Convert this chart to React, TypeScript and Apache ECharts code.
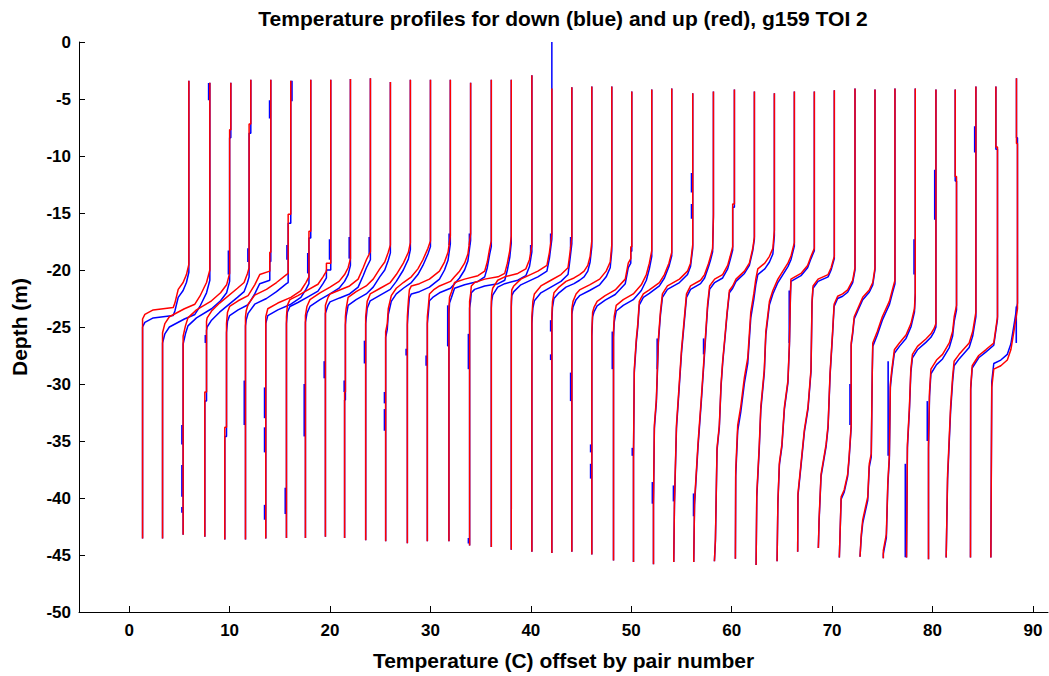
import React, { useEffect, useRef } from "react";
import * as echarts from "echarts";

// ---- data ----
const xTickValues = [0, 10, 20, 30, 40, 50, 60, 70, 80, 90];

// temperature (offset) at the top of each "up" (red) profile
const upTopTemp = [
  5.94, 8.03, 10.12, 12.11, 14.1, 16.09, 18.08, 20.07, 22.03, 24.02,
  26.01, 28.0, 30.0, 31.98, 34.0, 36.06, 38.05, 40.1, 42.09, 44.08,
  46.07, 48.06, 50.05, 52.04, 54.03, 56.12, 58.18, 60.27, 62.26, 64.25,
  66.24, 68.23, 70.22, 72.28, 74.27, 76.26, 78.28, 80.34, 82.26, 84.32,
  86.31, 88.36,
];
// depth of the top of each up profile
const upTopDepth = [
  -3.41, -3.58, -3.58, -3.31, -3.31, -3.41, -3.31, -3.31, -3.25, -3.18,
  -3.51, -3.31, -3.31, -3.31, -3.58, -3.31, -3.31, -2.92, -4.07, -3.98,
  -3.91, -3.91, -4.34, -4.17, -4.07, -4.5, -4.34, -4.17, -4.34, -4.5,
  -4.34, -4.34, -4.24, -4.07, -4.17, -4.07, -4.07, -4.17, -4.17, -3.91,
  -3.91, -3.18,
];
// depth of the top of each down (blue) profile
const downTopDepth = [
  -3.41, -3.58, -3.58, -3.31, -3.31, -3.41, -3.31, -3.31, -3.25, -3.18,
  -3.51, -3.31, -3.31, -3.31, -3.58, -3.31, -3.31, -2.92, 0.0, -3.98,
  -3.91, -3.91, -4.34, -4.17, -4.07, -4.5, -4.34, -4.17, -4.34, -4.5,
  -4.34, -4.34, -4.24, -4.07, -4.17, -4.07, -4.07, -4.17, -4.17, -3.91,
  -3.91, -3.18,
];
// bottom temperature and depth of each profile
const bottomTemp = [
  1.33, 3.32, 5.37, 7.53, 9.52, 11.58, 13.6, 15.66, 17.55, 19.54,
  21.45, 23.55, 25.54, 27.7, 29.69, 31.84, 33.9, 36.06, 38.05, 40.1,
  42.09, 44.08, 46.07, 48.23, 50.22, 52.21, 54.23, 56.22, 58.28, 60.37,
  62.43, 64.52, 66.57, 68.63, 70.72, 72.78, 75.1, 77.41, 79.6, 81.36,
  83.78, 85.81,
];
const bottomDepth = [
  -43.56, -43.56, -43.23, -43.4, -43.63, -43.63, -43.56, -43.5, -43.5, -43.4,
  -43.5, -43.7, -43.8, -43.96, -43.8, -43.8, -44.16, -44.29, -44.55, -44.72,
  -44.82, -44.72, -44.95, -45.48, -45.61, -45.81, -45.61, -45.61, -45.55, -45.32,
  -45.88, -45.55, -44.72, -44.39, -45.22, -45.15, -45.28, -45.22, -45.38, -45.22,
  -45.22, -45.22,
];
// thermocline points [temperature, depth] of each up profile (between top and bottom)
const upThermocline: number[][][] = [
  [[5.94,-19.5],[5.7,-20.4],[5.37,-21.1],[4.88,-21.7],[4.55,-22.9],[4.38,-23.3],[2.39,-23.5],[1.56,-23.9],[1.33,-24.3]],
  [[8.03,-20.0],[7.7,-21.1],[7.04,-22.3],[6.54,-23.0],[5.5,-23.4],[4.0,-24.1],[3.55,-24.7],[3.32,-25.5]],
  [[10.12,-7.7],[10.0,-7.7],[10.0,-20.3],[9.7,-21.3],[9.1,-22.0],[8.2,-22.7],[6.7,-23.5],[5.85,-24.2],[5.6,-24.9],[5.37,-25.8]],
  [[12.11,-7.2],[11.94,-7.2],[11.94,-19.8],[11.78,-20.3],[11.44,-21.1],[10.78,-21.6],[9.0,-22.9],[8.2,-23.6],[7.76,-24.2],[7.7,-24.5],[7.7,-30.7],[7.53,-30.7]],
  [[14.1,-18.45],[14.0,-18.45],[14.0,-20.1],[13.0,-20.4],[12.5,-21.3],[11.84,-22.25],[10.85,-22.7],[10.0,-23.2],[9.79,-23.7],[9.69,-24.7],[9.69,-33.8],[9.52,-33.8]],
  [[16.09,-15.1],[15.83,-15.1],[15.83,-20.3],[15.66,-20.4],[14.67,-21.1],[13.67,-21.7],[12.5,-22.2],[11.84,-23.0],[11.65,-23.6],[11.58,-24.1]],
  [[18.08,-16.6],[17.9,-16.6],[17.9,-20.6],[17.6,-21.1],[17.1,-21.8],[16.1,-22.4],[14.8,-22.9],[13.8,-23.4],[13.6,-24.1]],
  [[20.07,-19.4],[19.64,-19.4],[19.64,-20.1],[19.3,-20.6],[18.8,-21.25],[17.8,-21.75],[16.8,-22.25],[16.0,-22.6],[15.75,-23.1],[15.66,-24.1]],
  [[22.03,-19.0],[21.8,-19.8],[21.45,-20.4],[20.9,-21.0],[20.0,-21.5],[19.0,-22.0],[18.0,-22.6],[17.7,-23.2],[17.55,-24.0]],
  [[24.02,-18.4],[23.62,-19.1],[23.3,-19.8],[22.8,-20.8],[21.95,-21.4],[20.96,-21.75],[20.0,-22.1],[19.8,-22.4],[19.54,-23.1]],
  [[26.01,-17.8],[25.8,-18.45],[25.45,-19.3],[24.95,-19.9],[24.3,-20.8],[23.6,-21.4],[22.6,-21.9],[21.8,-22.4],[21.6,-23.4],[21.53,-24.1],[21.53,-30.7],[21.45,-30.7]],
  [[28.0,-17.6],[27.8,-18.45],[27.3,-19.4],[26.6,-20.4],[26.0,-21.1],[25.0,-21.6],[24.0,-22.1],[23.7,-22.75],[23.55,-24.1]],
  [[30.0,-17.45],[29.75,-18.1],[29.25,-19.1],[28.75,-19.9],[28.1,-20.6],[27.3,-21.1],[26.6,-21.6],[26.1,-22.25],[25.8,-23.4],[25.7,-24.7],[25.54,-25.4]],
  [[31.98,-17.0],[31.75,-18.45],[31.4,-19.3],[30.9,-20.1],[29.9,-20.8],[28.9,-21.2],[28.1,-21.4],[27.9,-21.75],[27.8,-22.75],[27.7,-24.1]],
  [[34.0,-16.8],[33.73,-18.6],[33.4,-19.4],[32.9,-20.1],[32.4,-20.6],[32.0,-21.0],[30.9,-21.4],[30.3,-21.75],[29.9,-22.1],[29.8,-23.1],[29.69,-24.1]],
  [[36.06,-17.45],[35.9,-18.1],[35.66,-19.3],[35.4,-20.1],[34.73,-20.5],[33.4,-20.8],[32.4,-21.1],[32.1,-21.9],[31.9,-22.4],[31.84,-23.4]],
  [[38.05,-17.0],[37.9,-18.3],[37.66,-19.4],[37.4,-20.3],[36.73,-20.6],[35.4,-20.8],[34.4,-21.1],[34.07,-21.4],[34.0,-22.1],[33.9,-22.75]],
  [[40.1,-17.8],[39.86,-19.1],[39.5,-19.9],[38.7,-20.3],[37.4,-20.6],[36.7,-20.9],[36.2,-21.6],[36.1,-22.1],[36.06,-22.75]],
  [[42.09,-16.8],[41.85,-18.45],[41.6,-19.6],[40.7,-20.1],[39.0,-20.8],[38.3,-21.4],[38.1,-21.75],[38.05,-22.75]],
  [[44.08,-17.1],[43.85,-18.8],[43.7,-19.8],[43.0,-20.4],[42.0,-20.9],[41.0,-21.4],[40.35,-22.1],[40.2,-22.75],[40.1,-24.1]],
  [[46.07,-17.45],[45.9,-18.8],[45.67,-19.6],[45.3,-20.1],[44.85,-20.4],[44.3,-20.7],[43.5,-21.0],[42.8,-21.5],[42.3,-22.0],[42.15,-22.8],[42.09,-24.0]],
  [[48.06,-17.8],[47.9,-19.3],[47.5,-20.1],[46.85,-20.8],[45.85,-21.3],[44.85,-21.75],[44.5,-22.1],[44.2,-22.75],[44.08,-23.4]],
  [[50.05,-17.95],[49.95,-17.95],[49.95,-19.0],[49.7,-19.4],[49.4,-20.8],[48.4,-21.75],[47.4,-22.25],[46.6,-22.75],[46.3,-23.25],[46.15,-23.7],[46.07,-25.4]],
  [[52.04,-18.3],[51.8,-19.4],[51.5,-20.4],[51.0,-21.3],[50.2,-22.1],[49.2,-22.6],[48.5,-23.1],[48.3,-24.1],[48.23,-25.4]],
  [[54.03,-18.45],[53.75,-19.4],[53.3,-20.4],[52.8,-21.1],[51.8,-21.75],[51.2,-22.1],[50.8,-22.75],[50.65,-24.7],[50.5,-26.05],[50.3,-28.7],[50.22,-36.3]],
  [[56.12,-17.8],[55.9,-19.4],[55.6,-20.1],[54.8,-20.8],[53.6,-21.4],[53.1,-22.1],[52.9,-23.7],[52.7,-26.05],[52.6,-28.7],[52.5,-31.3],[52.3,-33.6],[52.21,-40.3]],
  [[58.18,-15.1],[58.1,-18.1],[57.9,-18.8],[57.7,-19.4],[57.3,-20.4],[56.9,-20.9],[55.9,-21.4],[55.5,-22.1],[55.0,-27.0],[54.7,-31.0],[54.5,-33.6],[54.3,-40.3]],
  [[60.27,-14.2],[60.1,-14.2],[60.1,-17.95],[59.85,-18.8],[59.6,-19.6],[59.1,-20.4],[58.3,-20.8],[57.8,-21.4],[57.6,-23.0],[57.3,-27.0],[56.97,-31.3],[56.64,-35.3],[56.3,-40.3]],
  [[62.26,-17.1],[62.1,-18.1],[61.76,-19.4],[61.27,-20.1],[60.43,-20.8],[60.1,-21.4],[59.77,-21.8],[59.54,-23.7],[59.34,-25.7],[59.1,-28.0],[58.94,-30.0],[58.77,-33.6],[58.54,-35.6],[58.38,-43.6]],
  [[64.25,-16.5],[64.1,-18.1],[63.76,-18.8],[63.3,-19.4],[62.6,-19.9],[62.4,-20.8],[62.2,-22.1],[61.9,-23.7],[61.6,-27.7],[61.27,-29.4],[60.9,-32.0],[60.6,-33.6],[60.4,-37.6]],
  [[66.24,-17.6],[65.9,-18.8],[65.6,-19.4],[65.1,-20.1],[64.6,-20.8],[64.1,-21.8],[63.76,-22.75],[63.4,-25.4],[63.25,-28.7],[62.9,-32.0],[62.75,-35.3],[62.5,-39.6]],
  [[68.23,-18.1],[67.9,-18.8],[67.56,-19.6],[66.9,-20.3],[65.9,-20.8],[65.85,-22.1],[65.75,-26.4],[65.6,-29.7],[65.25,-32.0],[65.0,-35.3],[64.75,-36.9],[64.6,-40.3]],
  [[70.22,-18.8],[69.9,-19.8],[69.6,-20.4],[68.6,-20.8],[68.1,-21.4],[68.0,-22.75],[67.9,-28.7],[67.6,-32.0],[67.24,-34.0],[66.9,-37.0],[66.6,-39.6]],
  [[72.28,-19.8],[72.05,-20.9],[71.55,-21.75],[71.05,-22.1],[70.55,-22.3],[70.2,-23.0],[70.05,-25.4],[69.8,-29.0],[69.6,-33.6],[69.4,-35.3],[68.9,-37.9],[68.7,-41.9]],
  [[74.27,-19.8],[74.05,-21.1],[73.7,-21.75],[73.05,-22.4],[72.55,-23.4],[72.2,-24.1],[72.05,-25.4],[71.9,-26.4],[71.9,-33.6],[71.7,-36.3],[71.55,-37.9],[71.2,-39.3],[70.9,-39.9]],
  [[76.26,-20.9],[76.0,-21.75],[75.7,-22.75],[75.0,-24.1],[74.5,-25.4],[74.05,-26.4],[74.0,-28.7],[73.9,-36.1],[73.7,-37.0],[73.55,-39.9],[73.05,-41.9],[72.9,-43.2]],
  [[78.28,-22.0],[78.2,-23.4],[77.85,-24.7],[77.36,-25.7],[76.7,-26.4],[76.2,-27.0],[75.95,-28.7],[75.8,-30.0],[75.7,-36.3],[75.55,-38.6],[75.4,-43.2],[75.1,-44.6]],
  [[80.34,-24.7],[80.17,-25.1],[79.84,-25.6],[79.34,-26.05],[78.5,-26.7],[78.0,-27.4],[77.84,-28.7],[77.7,-32.0],[77.5,-35.3]],
  [[82.26,-11.8],[82.39,-11.8],[82.39,-23.1],[82.16,-24.1],[82.0,-25.4],[81.67,-26.4],[81.0,-27.4],[80.4,-27.9],[79.84,-28.7],[79.7,-30.7],[79.6,-35.3]],
  [[84.32,-23.7],[84.0,-25.4],[83.65,-26.4],[82.65,-27.4],[82.15,-28.0],[82.0,-29.4],[81.8,-32.0],[81.6,-36.0],[81.5,-37.95]],
  [[86.31,-9.2],[86.47,-9.2],[86.47,-24.1],[86.1,-26.4],[85.3,-27.0],[84.6,-27.5],[83.95,-28.4],[83.8,-30.3]],
  [[88.36,-8.9],[88.46,-8.9],[88.46,-23.4],[88.1,-25.4],[87.8,-27.0],[87.45,-27.9],[86.8,-28.4],[86.1,-28.7],[85.9,-30.3]],
];
// how much deeper (m) the down cast's thermocline sits than the up cast's
const downShift = [
  0.7, 0.9, 0.7, 0.8, 0.8, 0.8, 0.6, 0.6, 0.6, 0.7,
  0.7, 0.6, 0.5, 0.7, 0.6, 0.5, 0.6, 0.6, 0.5, 0.6,
  0.5, 0.5, 0.4, 0.5, 0.3, 0.3, 0.3, 0.3, 0.2, 0.5,
  0.3, 0.2, 0.2, 0.2, 0.2, 0.3, 0.3, 0.3, 0.4, 0.4,
  0.2, -0.5,
];
// short stretches where the down cast sits beside the up cast: [temperature, top depth, bottom depth]
const downSideSegments = [
  [7.91, -3.6, -5.1], [9.88, -18.3, -20.4], [5.25, -33.6, -35.3], [5.25, -37.1, -39.9], [5.25, -40.8, -41.3],
  [11.82, -18.1, -19.3], [7.58, -25.7, -26.4], [13.98, -5.1, -6.7], [16.21, -3.4, -5.2], [15.71, -17.8, -19.1],
  [11.46, -29.7, -33.6], [17.78, -18.5, -20.3], [13.48, -30.3, -33.0], [13.48, -33.8, -36.0], [13.48, -40.6, -41.9],
  [19.95, -17.3, -19.1], [15.54, -39.1, -41.4], [21.91, -17.1, -19.0], [17.43, -30.0, -34.6], [23.9, -17.1, -18.6],
  [19.42, -28.0, -29.5], [21.41, -29.7, -30.7], [23.43, -26.2, -28.2], [25.42, -30.7, -31.7], [25.42, -32.2, -34.1],
  [31.86, -16.8, -17.8], [27.58, -26.9, -27.5], [33.88, -16.8, -17.8], [29.57, -27.5, -28.4], [31.72, -23.1, -26.7],
  [33.78, -25.6, -28.7], [33.78, -43.5, -44.0], [39.98, -17.8, -18.5], [41.97, -16.8, -17.6], [43.96, -17.1, -18.1],
  [41.97, -24.4, -25.4], [41.97, -27.4, -27.9], [43.96, -29.0, -31.5], [45.95, -35.3, -36.0], [45.95, -37.0, -38.3],
  [48.11, -25.4, -28.7], [50.1, -35.6, -36.3], [56.0, -11.5, -13.2], [56.0, -14.2, -15.5], [52.58, -26.0, -28.7],
  [52.1, -38.6, -40.5], [54.2, -38.9, -40.3], [56.2, -39.6, -41.6], [57.2, -26.0, -27.4], [65.73, -21.8, -26.4],
  [71.78, -30.0, -33.6], [75.58, -28.0, -36.3], [78.16, -17.3, -20.4], [80.22, -11.2, -15.6], [77.29, -37.0, -45.2],
  [79.48, -31.5, -35.0], [84.2, -7.4, -9.7], [88.34, -23.2, -26.4],
];

const FONT = '"Liberation Sans", Arial, Helvetica, sans-serif';

export default function App() {
  const ref = useRef<HTMLDivElement>(null);

  useEffect(() => {
    if (!ref.current) return;
    const chart = echarts.init(ref.current, null, { renderer: "svg" });

    const lineBase = {
      type: "line",
      showSymbol: false,
      symbol: "none",
      silent: true,
    };

    const downSeries = upThermocline.map((knots, i) => ({
      ...lineBase,
      name: "down " + (i + 1),
      lineStyle: { color: "#0000ff", width: 1.5 },
      data: [
        [upTopTemp[i], downTopDepth[i]],
        ...knots.map(([t, z]) => [t, z - downShift[i]]),
        [bottomTemp[i], bottomDepth[i]],
      ],
    }));
    const sideSeries = downSideSegments.map(([t, z1, z2], i) => ({
      ...lineBase,
      name: "down side " + (i + 1),
      lineStyle: { color: "#0000ff", width: 1.6 },
      data: [
        [t, z1],
        [t, z2],
      ],
    }));
    const upSeries = upThermocline.map((knots, i) => ({
      ...lineBase,
      name: "up " + (i + 1),
      lineStyle: { color: "#ff0000", width: 1.5 },
      data: [
        [upTopTemp[i], upTopDepth[i]],
        ...knots,
        [bottomTemp[i], bottomDepth[i]],
      ],
    }));

    const labelStyle = {
      color: "#000",
      fontSize: 17,
      fontWeight: "bold" as const,
      fontFamily: FONT,
    };
    const nameStyle = { ...labelStyle, fontSize: 21 };

    chart.setOption({
      animation: false,
      backgroundColor: "#ffffff",
      grid: { left: 79, right: 1, top: 42, bottom: 63, containLabel: false },
      graphic: [
        {
          type: "text",
          x: 563,
          y: 18,
          style: {
            text: "Temperature profiles for down (blue) and up (red), g159 TOI 2",
            align: "center",
            verticalAlign: "middle",
            font: 'bold 21px "Liberation Sans", Arial, sans-serif',
            fill: "#000",
          },
        },
      ],
      xAxis: {
        type: "value",
        min: -5,
        max: 91.5,
        splitLine: { show: false },
        axisLine: { show: true, onZero: false, lineStyle: { color: "#000", width: 1 } },
        axisTick: {
          show: true,
          inside: true,
          length: 6,
          customValues: xTickValues,
          lineStyle: { color: "#000", width: 1 },
        },
        axisLabel: { ...labelStyle, margin: 10, customValues: xTickValues },
        name: "Temperature (C) offset by pair number",
        nameLocation: "middle",
        nameGap: 38,
        nameTextStyle: nameStyle,
      },
      yAxis: {
        type: "value",
        min: -50,
        max: 0,
        interval: 5,
        splitLine: { show: false },
        axisLine: { show: true, onZero: false, lineStyle: { color: "#000", width: 1 } },
        axisTick: { show: true, inside: true, length: 6, lineStyle: { color: "#000", width: 1 } },
        axisLabel: { ...labelStyle, margin: 8 },
        name: "Depth (m)",
        nameLocation: "middle",
        nameGap: 49,
        nameRotate: 90,
        nameTextStyle: nameStyle,
      },
      series: [...downSeries, ...sideSeries, ...upSeries],
    });

    return () => chart.dispose();
  }, []);

  return (
    <div
      ref={ref}
      style={{
        position: "fixed",
        left: 0,
        top: 0,
        width: 1049,
        height: 676,
        background: "#fff",
      }}
    />
  );
}
